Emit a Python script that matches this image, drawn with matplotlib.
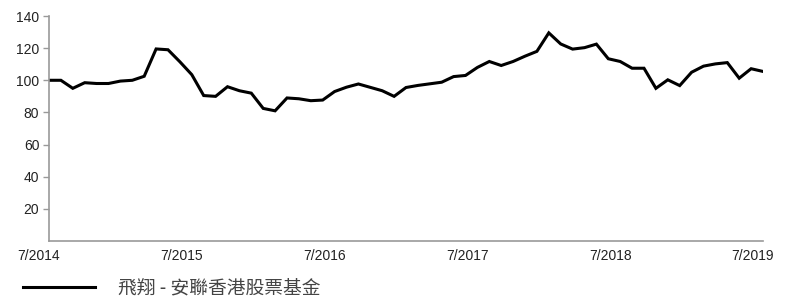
import numpy as np
import matplotlib.pyplot as plt
import matplotlib.transforms as mtransforms

plt.rcParams['font.family'] = ['Liberation Sans', 'DejaVu Sans']

# monthly index values, 7/2014 .. 7/2019
values = [100, 100, 95, 98.5, 98, 98, 99.5, 100, 102.5, 119.5,
          119, 111.5, 103.5, 90.5, 90, 96, 93.5, 92, 82.5, 81,
          89, 88.5, 87.3, 87.7, 93, 95.7, 97.7, 95.6, 93.5, 90,
          95.5, 96.8, 97.8, 98.8, 102.3, 103, 108, 111.7, 109.2, 111.7,
          115, 118, 129.5, 122.6, 119.4, 120.3, 122.5, 113.4, 111.7, 107.5,
          107.5, 95, 100.3, 96.7, 105, 108.8, 110.2, 111, 101.3, 107.2,
          105.5]
tick_labels = ['7/2014', '7/2015', '7/2016', '7/2017', '7/2018', '7/2019']
series_name = '飛翔 - 安聯香港股票基金'

x = np.arange(len(values))

fig = plt.figure(figsize=(7.88, 3.0), dpi=100)
ax = fig.add_axes([49/788, 1 - 241/300, (763 - 49)/788, (241 - 16)/300])

line, = ax.plot(x, values, color='black', linewidth=2.2, solid_joinstyle='miter')

ax.set_xlim(0, len(values) - 1)
ax.set_ylim(0, 140)
ax.set_yticks(range(20, 141, 20))
ax.set_xticks(range(0, len(values), 12))
ax.set_xticklabels(tick_labels)

for s in ['top', 'right']:
    ax.spines[s].set_visible(False)
for s in ['left', 'bottom']:
    ax.spines[s].set_color('#999999')
    ax.spines[s].set_linewidth(1.2)

ax.tick_params(axis='y', length=4, width=1, color='#999999', pad=3,
               labelsize=10, labelcolor='#222222')
ax.tick_params(axis='x', length=0, pad=6, labelsize=10, labelcolor='#222222')

# x labels sit a little left of their month
offset = mtransforms.ScaledTranslation(-10/100, 0, fig.dpi_scale_trans)
for lbl in ax.get_xticklabels():
    lbl.set_transform(lbl.get_transform() + offset)

fig.legend([line], [series_name], loc='center left',
           bbox_to_anchor=(23/788, 1 - 288/300), frameon=False,
           borderaxespad=0, borderpad=0, handlelength=3.85, handletextpad=1.2,
           prop={'family': ['Noto Sans CJK TC', 'DejaVu Sans'], 'size': 13.5},
           labelcolor='#444444')

fig.savefig('out.png', dpi=100)
